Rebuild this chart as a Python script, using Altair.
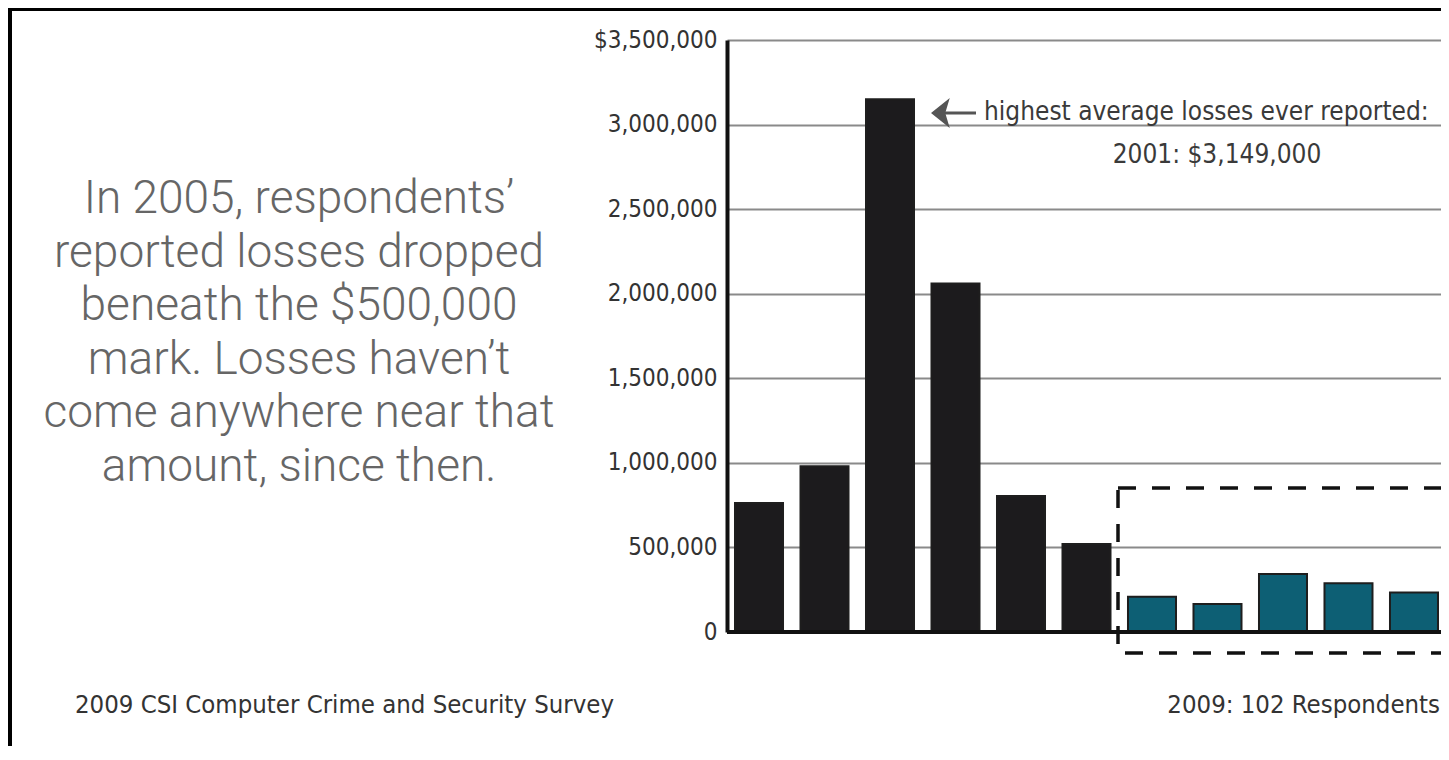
import altair as alt
import pandas as pd

# ---- data ----
years = ["1999", "2000", "2001", "2002", "2003", "2004",
         "2005", "2006", "2007", "2008", "2009"]
losses = [763000, 980000, 3149000, 2060000, 804000, 521000,
          208000, 165000, 343000, 288000, 234000]
groups = ["1999-2004"] * 6 + ["2005-2009"] * 5
group_names = ["1999-2004", "2005-2009"]
group_colors = ["#1c1b1d", "#0d5f74"]
y_ticks = [0, 500000, 1000000, 1500000, 2000000, 2500000, 3000000, 3500000]

side_text = ["In 2005, respondents\u2019",
             "reported losses dropped",
             "beneath the $500,000",
             "mark. Losses haven\u2019t",
             "come anywhere near that",
             "amount, since then."]
note_line1 = "highest average losses ever reported:"
note_line2 = "2001: $3,149,000"
source_text = "2009 CSI Computer Crime and Security Survey"
respondents_text = "2009: 102 Respondents"

NARROW = "'Liberation Sans Narrow', 'DejaVu Sans Condensed', 'Arial Narrow', sans-serif"
W, H = 714, 592

df = pd.DataFrame({"year": years, "loss": losses, "group": groups})
one = pd.DataFrame({"k": [0]})

bars = alt.Chart(df).mark_bar(stroke="#1e1e1e", strokeWidth=2).encode(
    x=alt.X("year:O", axis=None,
            scale=alt.Scale(paddingInner=0.267, paddingOuter=0.084, align=0.727)),
    y=alt.Y("loss:Q",
            scale=alt.Scale(domain=[0, 3500000], nice=False, zero=True),
            axis=alt.Axis(values=y_ticks,
                          labelExpr="datum.value == 3500000 ? '$3,500,000' : format(datum.value, ',')",
                          grid=True, gridColor="#8a8a8a", gridWidth=2,
                          domain=True, domainColor="#111111", domainWidth=4,
                          ticks=False, labelFont=NARROW, labelFontSize=24,
                          labelColor="#333333", labelPadding=10, title=None)),
    color=alt.Color("group:N", scale=alt.Scale(domain=group_names, range=group_colors),
                    legend=None),
)

baseline = alt.Chart(one).mark_rule(color="#111111", strokeWidth=4).encode(
    x=alt.value(0), x2=alt.value(W), y=alt.value(H))

box = alt.Chart(one).mark_rect(fillOpacity=0, stroke="#111111", strokeWidth=3.5,
                               strokeDash=[18, 16]).encode(
    x=alt.value(391), x2=alt.value(780), y=alt.value(448), y2=alt.value(613))

arrow_shaft = alt.Chart(one).mark_rule(color="#555555", strokeWidth=3).encode(
    x=alt.value(214), x2=alt.value(249), y=alt.value(73))
arrow_head = alt.Chart(one).mark_point(
    shape="M -1 0 L 0.25 -1 L -0.05 0 L 0.25 1 Z", filled=True, opacity=1,
    color="#555555", size=900).encode(x=alt.value(219), y=alt.value(73))

note1 = alt.Chart(one).mark_text(align="left", baseline="middle", font=NARROW,
                                 fontSize=26, color="#3a3a3a").encode(
    x=alt.value(257), y=alt.value(72), text=alt.value(note_line1))
note2 = alt.Chart(one).mark_text(align="center", baseline="middle", font=NARROW,
                                 fontSize=26, color="#3a3a3a").encode(
    x=alt.value(490), y=alt.value(115), text=alt.value(note_line2))

side = alt.Chart(one).mark_text(align="center", baseline="alphabetic", font="Roboto",
                                fontWeight=300, fontSize=46, lineHeight=53.6,
                                color="#666666").encode(
    x=alt.value(-428), y=alt.value(173), text=alt.value(side_text))

source = alt.Chart(one).mark_text(align="left", baseline="middle", font=NARROW,
                                  fontSize=25.5, color="#333333").encode(
    x=alt.value(-652), y=alt.value(665), text=alt.value(source_text))
resp = alt.Chart(one).mark_text(align="right", baseline="middle", font=NARROW,
                                fontSize=25.5, color="#333333").encode(
    x=alt.value(713), y=alt.value(665), text=alt.value(respondents_text))

border_top = alt.Chart(one).mark_rule(color="#000000", strokeWidth=4).encode(
    x=alt.value(-719), x2=alt.value(W + 5), y=alt.value(-31))
border_left = alt.Chart(one).mark_rule(color="#000000", strokeWidth=4).encode(
    x=alt.value(-717), y=alt.value(-32), y2=alt.value(720))

chart = alt.layer(
    bars, baseline, box, arrow_shaft, arrow_head, note1, note2,
    side, source, resp, border_top, border_left
).properties(
    width=W, height=H,
    autosize=alt.AutoSizeParams(type="none"),
    padding={"left": 719, "top": 32, "right": 0, "bottom": 114},
    background="white",
).configure_view(stroke=None)

chart.save("out.html", embed_options={"renderer": "svg", "actions": False})
